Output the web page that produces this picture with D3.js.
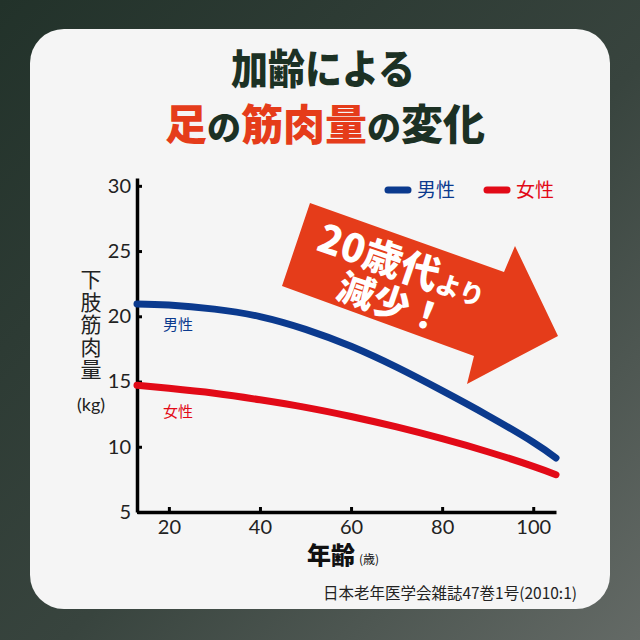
<!DOCTYPE html>
<html>
<head>
<meta charset="utf-8">
<script src="https://cdn.jsdelivr.net/npm/d3@7"></script>
<style>
  html, body { margin: 0; padding: 0; background: #2c3a33; }
  svg { display: block; }
</style>
</head>
<body>
<svg id="chart"></svg>
<script>
// ages
var ages = [13, 20, 30, 40, 50, 60, 70, 80, 90, 100, 105];
var male = [20.95, 20.87, 20.55, 19.98, 19.0, 17.7, 16.1, 14.3, 12.4, 10.35, 9.14];
var female = [14.72, 14.48, 14.1, 13.6, 13.02, 12.32, 11.52, 10.62, 9.62, 8.5, 7.86];
var xTicks = [20, 40, 60, 80, 100];
var yTicks = [5, 10, 15, 20, 25, 30];

var svgWidth = 640, svgHeight = 640;
var jp = "'Noto Sans CJK JP', 'Noto Sans', sans-serif";
var numFont = "'Lato', 'Noto Sans', sans-serif";
var blue = "#0b3a8e", red = "#e20a17", dark = "#1c3124", orange = "#e53c1a";

var svg = d3.select("#chart")
	.attr("width", svgWidth)
	.attr("height", svgHeight);

var defs = svg.append("defs");
var bg = defs.append("linearGradient")
	.attr("id", "bg")
	.attr("x1", 0).attr("y1", 0).attr("x2", 1).attr("y2", 1);
bg.append("stop").attr("offset", "0%").attr("stop-color", "#22322a");
bg.append("stop").attr("offset", "55%").attr("stop-color", "#38443e");
bg.append("stop").attr("offset", "100%").attr("stop-color", "#646a66");

svg.append("rect")
	.attr("width", svgWidth)
	.attr("height", svgHeight)
	.attr("fill", "url(#bg)");

// card
svg.append("rect")
	.attr("x", 30).attr("y", 29)
	.attr("width", 580).attr("height", 580)
	.attr("rx", 34)
	.attr("fill", "#f5f5f5");

// title (first line a bit taller, like the condensed heading font)
svg.append("text")
	.attr("transform", "translate(323,84) scale(1,1.1)")
	.attr("text-anchor", "middle")
	.attr("font-family", jp)
	.attr("font-weight", 900)
	.attr("font-size", 37)
	.attr("fill", dark)
	.text("加齢による");

var t2 = svg.append("text")
	.attr("x", 325).attr("y", 140)
	.attr("text-anchor", "middle")
	.attr("font-family", jp)
	.attr("font-weight", 900)
	.attr("font-size", 42);
[["足", orange, 42], ["の", dark, 34], ["筋肉量", orange, 42], ["の", dark, 34], ["変化", dark, 42]]
	.forEach(function(p) {
		t2.append("tspan").attr("fill", p[1]).attr("font-size", p[2]).text(p[0]);
	});

// scales
var x = d3.scaleLinear().domain([13, 105]).range([137, 556]);
var y = d3.scaleLinear().domain([5, 30.6]).range([512, 178]);

// arrow
var arrow = svg.append("g");
arrow.append("polygon")
	.attr("points", "310,203 504,272 515,246 558,336 467,384 474,356 282,286")
	.attr("fill", orange);
var at = arrow.append("g")
	.attr("transform", "translate(402,266) rotate(19)")
	.attr("font-family", jp)
	.attr("font-weight", 900)
	.attr("fill", "#fff")
	.attr("text-anchor", "middle");
var l1 = at.append("text").attr("x", 0).attr("y", 13);
l1.append("tspan").attr("font-size", 39).text("20歳代");
l1.append("tspan").attr("font-size", 25).text("より");
at.append("text").attr("x", 2).attr("y", 52)
	.attr("font-size", 37)
	.text("減少！");

// axes
var yAxis = svg.append("g")
	.attr("transform", "translate(" + x(13) + ",0)")
	.call(d3.axisLeft(y).tickValues(yTicks).tickSizeInner(-5).tickSizeOuter(0).tickPadding(6));
var xAxis = svg.append("g")
	.attr("transform", "translate(0," + y(5) + ")")
	.call(d3.axisBottom(x).tickValues(xTicks).tickSizeInner(-5).tickSizeOuter(0).tickPadding(8));

[yAxis, xAxis].forEach(function(a) {
	a.select(".domain").attr("stroke", "#000").attr("stroke-width", 3.5);
	a.selectAll(".tick line").attr("stroke", "#000").attr("stroke-width", 3);
	a.selectAll(".tick text")
		.attr("font-family", numFont)
		.attr("font-size", 20)
		.attr("fill", "#222");
});

// lines
var line = d3.line()
	.x(function(d) { return x(d.age); })
	.y(function(d) { return y(d.v); })
	.curve(d3.curveNatural);

[[female, red], [male, blue]].forEach(function(s) {
	var data = ages.map(function(a, i) { return {age: a, v: s[0][i]}; });
	svg.append("path")
		.datum(data)
		.attr("fill", "none")
		.attr("stroke", s[1])
		.attr("stroke-width", 7)
		.attr("stroke-linecap", "round")
		.attr("stroke-linejoin", "round")
		.attr("d", line);
});

// in-chart labels
svg.append("text").attr("x", 163).attr("y", 330)
	.attr("font-family", jp).attr("font-size", 15).attr("fill", blue).text("男性");
svg.append("text").attr("x", 163).attr("y", 417)
	.attr("font-family", jp).attr("font-size", 15).attr("fill", red).text("女性");

// legend
var legend = [["男性", blue, 388], ["女性", red, 487]];
legend.forEach(function(l) {
	svg.append("line")
		.attr("x1", l[2]).attr("x2", l[2] + 20)
		.attr("y1", 190).attr("y2", 190)
		.attr("stroke", l[1]).attr("stroke-width", 7)
		.attr("stroke-linecap", "round");
	svg.append("text")
		.attr("x", l[2] + 29).attr("y", 197)
		.attr("font-family", jp).attr("font-size", 19)
		.attr("fill", l[1]).text(l[0]);
});

// y title (vertical)
svg.append("text")
	.attr("x", 91).attr("y", 269)
	.attr("font-family", jp).attr("font-size", 21).attr("fill", "#222")
	.style("writing-mode", "vertical-rl")
	.style("text-orientation", "upright")
	.attr("letter-spacing", 1.5)
	.text("下肢筋肉量");
svg.append("text")
	.attr("x", 91).attr("y", 411)
	.attr("text-anchor", "middle")
	.attr("font-family", numFont).attr("font-size", 18).attr("fill", "#222")
	.text("(kg)");

// x title
var xt = svg.append("text")
	.attr("x", 307).attr("y", 564)
	.attr("font-family", jp).attr("font-weight", 900)
	.attr("fill", "#111");
xt.append("tspan").attr("font-size", 24).text("年齢");
xt.append("tspan").attr("font-size", 12).attr("font-weight", 400).attr("dx", 4).text("(歳)");

// source
svg.append("text")
	.attr("x", 577).attr("y", 599)
	.attr("text-anchor", "end")
	.attr("font-family", jp).attr("font-size", 15.5)
	.attr("fill", "#222")
	.text("日本老年医学会雑誌47巻1号(2010:1)");
</script>
</body>
</html>
